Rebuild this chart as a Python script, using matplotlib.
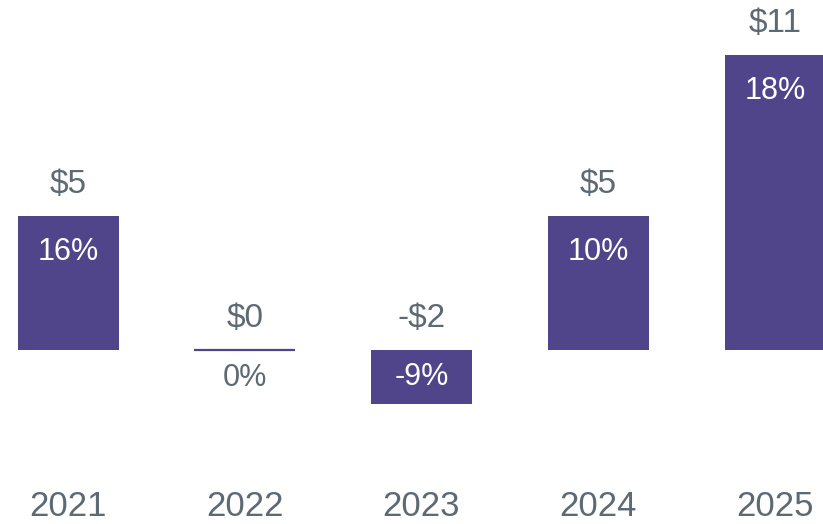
import matplotlib.pyplot as plt
from matplotlib import font_manager

# valeurs annuelles ($) et variation (%)
years = ['2021', '2022', '2023', '2024', '2025']
values = [5, 0, -2, 5, 11]
value_labels = ['$5', '$0', '-$2', '$5', '$11']
pct_labels = ['16%', '0%', '-9%', '10%', '18%']

BAR = '#50458a'
GREY = '#5d6a73'

names = {f.name for f in font_manager.fontManager.ttflist}
font = 'Liberation Sans' if 'Liberation Sans' in names else 'DejaVu Sans'
plt.rcParams['font.family'] = [font, 'DejaVu Sans']

fig = plt.figure(figsize=(8.23, 5.24), dpi=100)
ax = fig.add_axes([0, 0, 1, 1])

step = 176.75          # px entre deux barres
scale = 26.82          # px par dollar
ax.set_xlim(-68 / step, (823 - 68) / step)
ax.set_ylim(-(524 - 350) / scale, 350 / scale)
ax.axis('off')

x = range(len(years))
# la barre à zéro n'est visible que par son contour
ax.bar(x, values, width=101 / step, color=BAR, edgecolor=BAR,
       linewidth=[0 if v else 1.6 for v in values])

for i, v in enumerate(values):
    ax.text(i, max(v, 0) + 31 / scale, value_labels[i], ha='center', va='center',
            fontsize=24, color=GREY)
    if v > 0:
        ax.text(i, v - 36 / scale, pct_labels[i], ha='center', va='center',
                fontsize=22, color='white')
    elif v < 0:
        ax.text(i, v / 2, pct_labels[i], ha='center', va='center',
                fontsize=22, color='white')
    else:
        ax.text(i, -28 / scale, pct_labels[i], ha='center', va='center',
                fontsize=22, color=GREY)
    ax.text(i, -(507 - 350) / scale, years[i], ha='center', va='center',
            fontsize=25, color=GREY)

fig.savefig('out.png', dpi=100, facecolor='white')
